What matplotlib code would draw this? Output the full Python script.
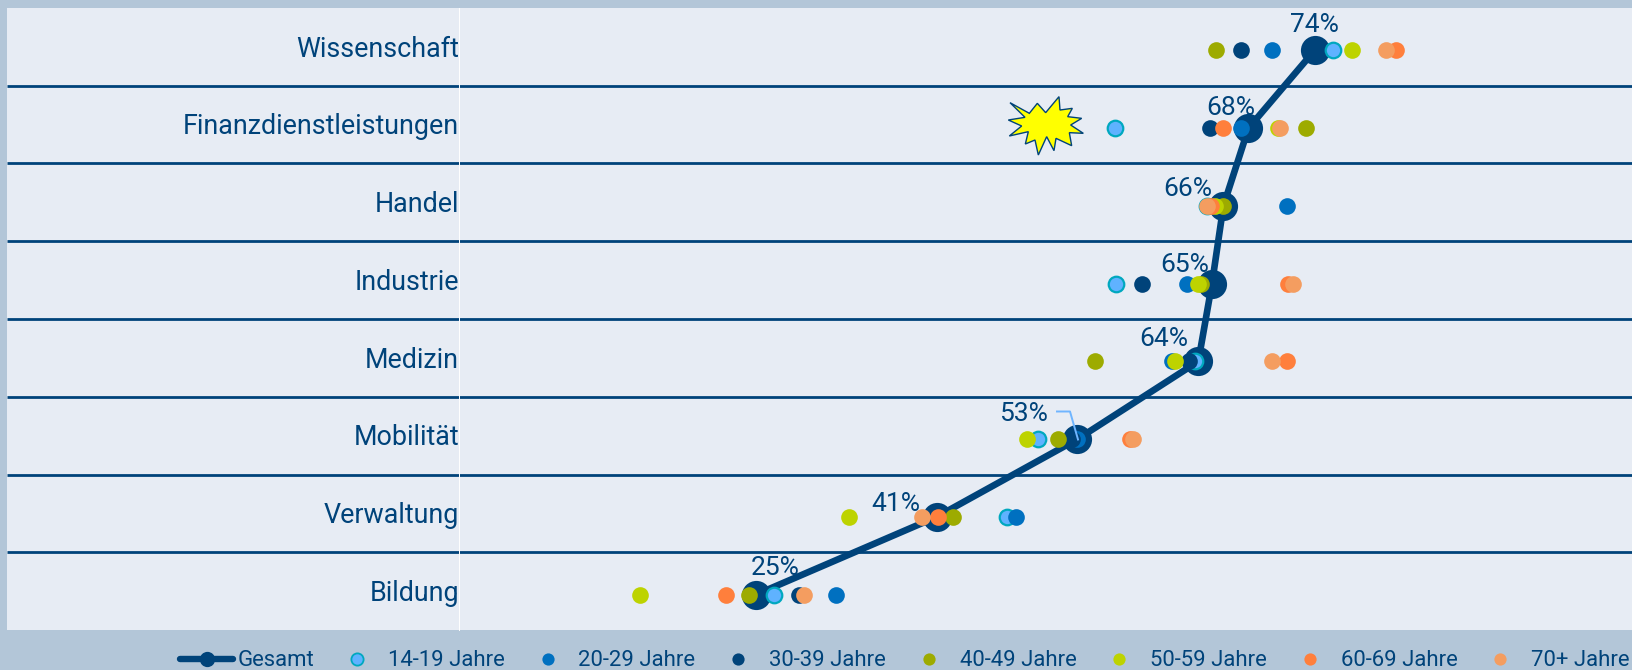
import matplotlib
matplotlib.use("Agg")
import matplotlib.pyplot as plt
from matplotlib.lines import Line2D
from matplotlib.patches import Polygon, Rectangle
from matplotlib.transforms import Affine2D, ScaledTranslation

categories = ["Wissenschaft", "Finanzdienstleistungen", "Handel", "Industrie",
              "Medizin", "Mobilität", "Verwaltung", "Bildung"]
gesamt = [74.0, 68.2, 66.0, 65.0, 63.8, 53.2, 40.85, 25.0]
gesamt_labels = ["74%", "68%", "66%", "65%", "64%", "53%", "41%", "25%"]
age_14_19 = [75.6, 56.5, 64.6, 56.6, 63.5, 49.7, 47.05, 26.6]
age_20_29 = [70.3, 67.5, 71.6, 62.8, 61.45, 53.2, 47.8, 32.0]
age_30_39 = [67.5, 64.8, 66.0, 58.85, 63.0, 52.7, 40.85, 28.75]
age_40_49 = [65.35, 73.25, 66.0, 64.0, 54.7, 51.5, 42.25, 24.4]
age_50_59 = [77.3, 70.8, 65.3, 63.8, 61.75, 48.8, 33.2, 14.8]
age_60_69 = [81.1, 66.0, 64.9, 71.65, 71.6, 57.8, 40.95, 22.4]
age_70 = [80.3, 70.95, 64.6, 72.1, 70.3, 58.1, 39.6, 29.2]

series = [("14-19 Jahre", age_14_19, "#5fb2ff", "#00a8bf"),
          ("20-29 Jahre", age_20_29, "#0070c0", "#0070c0"),
          ("30-39 Jahre", age_30_39, "#00437a", "#00437a"),
          ("40-49 Jahre", age_40_49, "#9dab00", "#9dab00"),
          ("50-59 Jahre", age_50_59, "#bdd300", "#bdd300"),
          ("60-69 Jahre", age_60_69, "#ff7f3c", "#ff7f3c"),
          ("70+ Jahre", age_70, "#f49d60", "#f49d60")]

W, H = 1632, 670
NAVY = "#00437a"
plt.rcParams["font.family"] = ["Roboto", "DejaVu Sans"]
fig = plt.figure(figsize=(W / 100, H / 100), dpi=100, facecolor="#b3c6d8")

# panel behind the whole plot, including the label column
fig.add_artist(Rectangle((7 / W, 1 - 630 / H), (W - 7) / W, 622 / H,
                         transform=fig.transFigure, fc="#e7ecf4", ec="none", zorder=-5))

ax = fig.add_axes([459 / W, 1 - 630 / H, (W - 459) / W, 622 / H])
ax.patch.set_alpha(0)
ax.set_xlim(-1.05, 101.84)
ax.set_ylim(7.455, -0.545)
for s in ax.spines.values():
    s.set_visible(False)
ax.spines["left"].set_visible(True)
ax.spines["left"].set_color("white")
ax.spines["left"].set_linewidth(0.7)
ax.set_xticks([])
ypos = list(range(len(categories)))
ax.set_yticks(ypos, categories, fontsize=19.4, color=NAVY)
ax.tick_params(axis="y", length=0, pad=0)
for lab in ax.get_yticklabels():
    lab.set_transform(lab.get_transform() + ScaledTranslation(0, 4.2 / 100, fig.dpi_scale_trans))

for i in ypos[:-1]:
    ax.plot([(7 - 459) / (W - 459), 1], [i + 0.455] * 2, color=NAVY, lw=2.0,
            transform=ax.get_yaxis_transform(), clip_on=False, zorder=1,
            solid_capstyle="butt")

ax.plot(gesamt, ypos, color=NAVY, lw=4.8, marker="o", ms=21, mew=0, zorder=3,
        solid_capstyle="round")
for k, (name, vals, fc, ec) in enumerate(series):
    ax.plot(vals, ypos, ls="none", marker="o", ms=12 if k else 11.2,
            mfc=fc, mec=ec, mew=1.6 if k == 0 else 0, zorder=4 + k, clip_on=False)

label_offsets_px = [(0, 25), (-18, 20), (-36, 17), (-27, 19), (-35, 22), (-54, 25), (-41, 13), (19, 27)]
for x, y, t, (dx, dy) in zip(gesamt, ypos, gesamt_labels, label_offsets_px):
    ax.annotate(t, (x, y), xytext=(dx * 0.72, dy * 0.72), textcoords="offset points",
                ha="center", va="center", fontsize=19, color=NAVY, zorder=20)

# leader line of the 53% label
px = Affine2D().scale(1, -1).translate(0, H)
ax.add_line(Line2D([1057, 1070, 1078], [411.5, 411.5, 439.5], color="#6fb5ff", lw=1.4,
                   transform=px, zorder=21, clip_on=False))

# starburst note
star_zoom = [(90, 308), (148, 340), (172, 310), (197, 338), (237, 290), (240, 330), (277, 325),
             (263, 350), (305, 355), (272, 375), (310, 400), (268, 398), (275, 437), (228, 415),
             (222, 452), (200, 410), (175, 465), (165, 420), (136, 432), (145, 395), (88, 408),
             (125, 378), (85, 360), (135, 352)]
star = [(980 + a / 3, b / 3) for a, b in star_zoom]
fig.add_artist(Polygon(star, closed=True, fc="#ffff00", ec=NAVY, lw=1.0, transform=px, zorder=10))

handles = [Line2D([], [], color=NAVY, lw=4.6, marker="o", ms=11, mew=0, label="Gesamt",
                  solid_capstyle="round")]
for k, (name, vals, fc, ec) in enumerate(series):
    handles.append(Line2D([], [], ls="none", marker="o", ms=8.8, mfc=fc, mec=ec,
                          mew=1.3 if k == 0 else 0, label=name))
leg = fig.legend(handles=handles, ncol=8, frameon=False, fontsize=15.9,
                 loc="center left", bbox_to_anchor=(180 / W, 1 - 661 / H),
                 borderaxespad=0, borderpad=0, handlelength=2.4, handletextpad=0.2,
                 columnspacing=0.74)
for t in leg.get_texts():
    t.set_color(NAVY)

fig.savefig("out.png", dpi=100, facecolor=fig.get_facecolor())
